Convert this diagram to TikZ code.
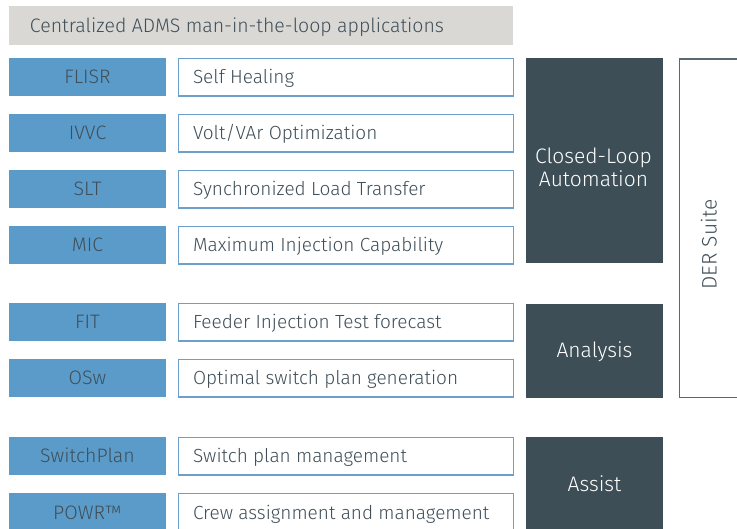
\documentclass[tikz,border=0pt]{standalone}
\usepackage{fontspec}
\setmainfont{Fira Sans}[UprightFont={* Light}]
\definecolor{dark}{HTML}{3D4E57}
\definecolor{blu}{HTML}{5B9BC9}
\definecolor{bord}{HTML}{6E9FCB}
\definecolor{titlegray}{HTML}{DAD8D5}
\definecolor{txt}{HTML}{3F4E58}
\definecolor{derline}{HTML}{5A6870}
\begin{document}
\begin{tikzpicture}[x=1pt,y=-1pt,
  base/.style={anchor=north west, inner sep=0pt, outer sep=0pt, text height=13.5pt, text depth=0pt},
  abbr/.style={base, fill=blu, text=txt, minimum width=157pt, minimum height=38.5pt, font=\fontsize{19.5}{22}\selectfont},
  desc/.style={base, draw=bord, line width=1.1pt, fill=white, text=txt, minimum width=335pt, minimum height=37.5pt, font=\fontsize{19}{22}\selectfont},
  group/.style={base, fill=dark, minimum width=137pt},
  gtext/.style={text=white, font=\fontsize{21}{25}\selectfont, inner sep=0pt, anchor=base},
]
\useasboundingbox (0,0) rectangle (737,529);
\clip (0,0) rectangle (737,529);
% title
\node[base, fill=titlegray, text=txt, minimum width=504pt, minimum height=39pt, font=\fontsize{19.5}{22}\selectfont] (title) at (9,6) {\makebox[504pt][l]{\hspace*{21pt}Centralized ADMS man-in-the-loop applications}};
% abbreviation boxes
\node[abbr] (flisr) at (9,58) {FLISR};
\node[abbr] (ivvc) at (9,114) {IVVC};
\node[abbr] (slt) at (9,170) {SLT};
\node[abbr] (mic) at (9,226) {MIC};
\node[abbr] (fit) at (9,303) {FIT};
\node[abbr] (osw) at (9,359) {OSw};
\node[abbr] (sp) at (9,437) {SwitchPlan};
\node[abbr] (powr) at (9,493) {POWR™};
% description boxes
\node[desc] (d1) at (178.5,58.5) {\makebox[335pt][l]{\hspace*{14.5pt}Self Healing}};
\node[desc] (d2) at (178.5,114.5) {\makebox[335pt][l]{\hspace*{14.5pt}Volt/VAr Optimization}};
\node[desc] (d3) at (178.5,170.5) {\makebox[335pt][l]{\hspace*{14.5pt}Synchronized Load Transfer}};
\node[desc] (d4) at (178.5,226.5) {\makebox[335pt][l]{\hspace*{14.5pt}Maximum Injection Capability}};
\node[desc] (d5) at (178.5,303.5) {\makebox[335pt][l]{\hspace*{14.5pt}Feeder Injection Test forecast}};
\node[desc] (d6) at (178.5,359.5) {\makebox[335pt][l]{\hspace*{14.5pt}Optimal switch plan generation}};
\node[desc] (d7) at (178.5,437.5) {\makebox[335pt][l]{\hspace*{14.5pt}Switch plan management}};
\node[desc] (d8) at (178.5,493.5) {\makebox[335pt][l]{\hspace*{14.5pt}Crew assignment and management}};
% group boxes
\node[group, minimum height=205pt] (cla) at (526,58) {};
\node[gtext] (cla1) at (593.5,163.5) {Closed-Loop};
\node[gtext] (cla2) at (593.5,187) {Automation};
\node[group, minimum height=94pt] (ana) at (526,304) {};
\node[gtext] (anat) at (594.5,358) {Analysis};
\node[group, minimum height=94pt] (asst) at (526,437) {};
\node[gtext] (asstt) at (594.5,492) {Assist};
% DER suite
\draw[derline, line width=1.2pt] (760,59) -- (679.5,59) -- (679.5,397.5) -- (760,397.5);
\node[text=txt, rotate=90, font=\fontsize{21}{24}\selectfont, inner sep=0pt, anchor=base] (der) at (716.5,244.5) {DER Suite};
\end{tikzpicture}
\end{document}
